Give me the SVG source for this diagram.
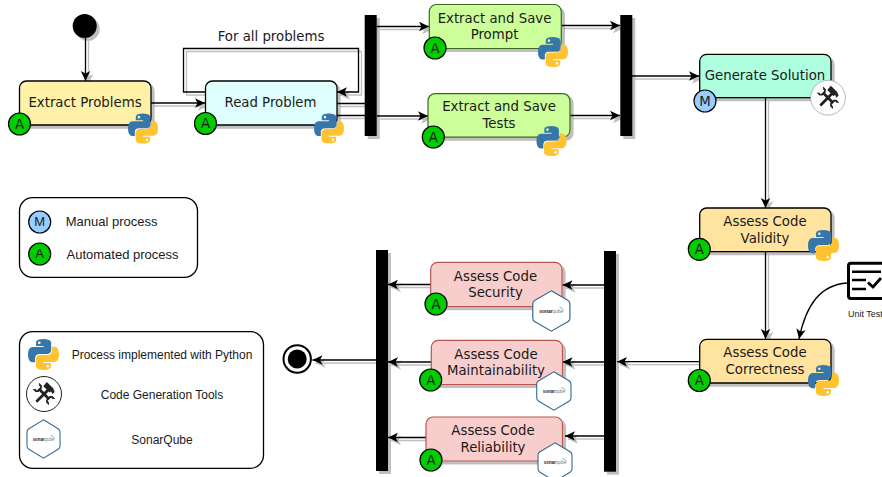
<svg xmlns="http://www.w3.org/2000/svg" xmlns:xlink="http://www.w3.org/1999/xlink" width="882" height="477" viewBox="0 0 882 477">
<style>
text{font-family:"DejaVu Sans",Verdana,sans-serif;font-size:13.300px;fill:#1a1a1a;text-anchor:middle;dominant-baseline:central}
.leg text,text.leg{font-family:"Liberation Sans",Arial,sans-serif;font-size:13px}
.n{stroke:#000;stroke-width:1.3}
.r{stroke:#b85450;stroke-width:1.2;fill:#f8cecc}
.g{stroke:#3a6b1a;stroke-width:1.2;fill:#ccff99}
.o{fill:#ffe39f}
.c{fill:none;stroke:#000;stroke-width:1.3}
.a{marker-end:url(#arrow)}
.badge{stroke:#000;stroke-width:1.2}
.A{fill:#00cc00}.M{fill:#99ccff}
.bar{fill:#000}
.box{fill:#fff;stroke:#000;stroke-width:1.3}
</style>
<defs>
<filter id="sh" filterUnits="userSpaceOnUse" x="0" y="0" width="882" height="477">
<feOffset in="SourceAlpha" dx="3" dy="3" result="o"/>
<feFlood flood-color="#000" flood-opacity=".25"/><feComposite in2="o" operator="in"/>
<feMerge><feMergeNode/><feMergeNode in="SourceGraphic"/></feMerge>
</filter>
<marker id="arrow" markerUnits="userSpaceOnUse" markerWidth="12" markerHeight="12" viewBox="-11 -6 12 12" refX="0" refY="0" orient="auto">
<path d="M0,0L-10,-4.7L-7.500,0L-10,4.700Z" fill="#000"/>
</marker>
<symbol id="py" viewBox="0 0 110 110">
<path fill="#3776ab" fill-rule="evenodd" d="M54.900 0C26.900 0 28.600 12.200 28.600 12.200v12.600h26.700v3.800H18S0 26.500 0 55s15.700 27.500 15.700 27.500h9.400V69.300s-.5-15.700 15.500-15.700h26.600s15 .2 15-14.500V14.700S84.500 0 54.900 0zM40.100 8.500a4.800 4.800 0 1 1 0 9.600 4.800 4.800 0 0 1 0-9.600z"/>
<path fill="#ffc331" fill-rule="evenodd" transform="rotate(180 55 55)" d="M54.900 0C26.900 0 28.600 12.200 28.600 12.200v12.600h26.700v3.800H18S0 26.500 0 55s15.700 27.500 15.700 27.500h9.400V69.300s-.5-15.700 15.500-15.700h26.600s15 .2 15-14.500V14.700S84.500 0 54.900 0zM40.100 8.500a4.800 4.800 0 1 1 0 9.600 4.800 4.800 0 0 1 0-9.600z"/>
</symbol>
<symbol id="tools-glyph" viewBox="0 0 36 36">
<g fill="#222">
<g transform="rotate(45 18 18)"><rect x="16.600" y="10" width="2.800" height="19" rx=".8"/><path d="M11.500 7.500h9l3.500 1.500v3l-3-1v2h-9z"/></g>
<g transform="rotate(-45 18 18)"><rect x="16.600" y="11" width="2.800" height="14"/><path d="M13.500 6.500v4l2 2h5l2-2v-4l-2 2v2h-5v-2zM13.500 29.500v-4l2-2h5l2 2v4l-2-2v-2h-5v2z"/></g>
</g>
</symbol>
<symbol id="sonar" viewBox="0 0 36 40" preserveAspectRatio="none">
<path d="M18 .8 33 9.700Q35 10.900 35 13V27Q35 29.100 33 30.300L18 39.200 3 30.300Q1 29.100 1 27V13Q1 10.900 3 9.700Z" fill="#fff" stroke="#336a94" stroke-width="1.100"/>
<text x="18" y="20" style="font-family:'Liberation Sans',Arial,sans-serif;font-size:4.500px;fill:#222"><tspan font-weight="bold">sonar</tspan><tspan fill="#777">qube</tspan></text>
<path d="M25.500 16.500Q28 17 29.500 19.500" fill="none" stroke="#4aa3df" stroke-width=".8"/>
</symbol>
</defs>
<rect width="882" height="477" fill="#fff"/>

<g id="connectors" filter="url(#sh)">
<path class="c a" d="M85.500 38V81"/>
<path class="c a" d="M151 103H205"/>
<path class="c a" d="M205.500 92H183.500V48.500H358.500V92H337"/>
<path class="c" d="M337 103.500H365M337 115.500H365"/>
<path class="c a" d="M377 26.500H429"/>
<path class="c a" d="M377 116H428"/>
<path class="c a" d="M561 25.500H620"/>
<path class="c a" d="M570 115.500H620"/>
<path class="c a" d="M632 76H699"/>
<path class="c a" d="M765.500 98V208"/>
<path class="c a" d="M765.500 252V339"/>
<path class="c a" d="M699.500 361.700H617"/>
<path class="c a" d="M604 285H562.500"/>
<path class="c a" d="M604 362H562.500"/>
<path class="c a" d="M604 436H565"/>
<path class="c a" d="M431 284.500H388"/>
<path class="c a" d="M431 362H388"/>
<path class="c a" d="M426 437.500H388"/>
<path class="c a" d="M376 360H312.500"/>
</g>
<path id="unit-test-link" class="c a" d="M847 283C820 285 806 305 799 339"/>

<g id="start"><circle cx="84.700" cy="26" r="12" fill="#000" filter="url(#sh)"/></g>
<text x="271" y="36">For all problems</text>

<g id="extract-problems">
<rect x="19.500" y="81" width="131.500" height="44" rx="7" class="n" fill="#fff2a8" filter="url(#sh)"/>
<text x="85" y="102.500">Extract Problems</text>
<circle cx="19.500" cy="124" r="11" class="badge A"/><text x="19.500" y="124">A</text>
<use href="#py" x="128" y="113" width="30" height="31"/>
</g>
<g id="read-problem">
<rect x="205.500" y="81" width="131.500" height="44" rx="7" class="n" fill="#dfffff" filter="url(#sh)"/>
<text x="270.500" y="102.500">Read Problem</text>
<circle cx="205.500" cy="123.500" r="11" class="badge A"/><text x="205.500" y="123.500">A</text>
<use href="#py" x="314" y="113" width="30" height="31"/>
</g>
<g id="fork-1"><rect x="364.700" y="15" width="12" height="121" class="bar" filter="url(#sh)"/></g>
<g id="extract-prompt">
<rect x="429.300" y="4.500" width="132" height="44" rx="7" class="g" filter="url(#sh)"/>
<text x="494.500" y="18">Extract and Save</text><text x="494.500" y="34.500">Prompt</text>
<circle cx="435" cy="48" r="11" class="badge A"/><text x="435" y="48">A</text>
<use href="#py" x="538" y="37" width="30" height="30"/>
</g>
<g id="extract-tests">
<rect x="428" y="93.700" width="142" height="43.500" rx="7" class="g" filter="url(#sh)"/>
<text x="499" y="106.500">Extract and Save</text><text x="499" y="123.500">Tests</text>
<circle cx="433.300" cy="137" r="11" class="badge A"/><text x="433.300" y="137">A</text>
<use href="#py" x="536" y="126" width="31" height="30"/>
</g>
<g id="join-1"><rect x="620.300" y="15" width="12" height="121" class="bar" filter="url(#sh)"/></g>
<g id="generate-solution">
<rect x="699.700" y="54.300" width="131.300" height="43.400" rx="7" class="n" fill="#aeffdf" filter="url(#sh)"/>
<text x="765" y="75.500">Generate Solution</text>
<circle cx="705" cy="101" r="11" class="badge M"/><text x="705" y="101">M</text>
<circle cx="828" cy="97.700" r="17.400" fill="#fff" stroke="#999" stroke-width=".7"/>
<use href="#tools-glyph" x="810" y="79.700" width="36" height="36"/>
</g>
<g id="assess-validity">
<rect x="699.700" y="208" width="131.300" height="43.700" rx="7" class="n o" filter="url(#sh)"/>
<text x="765" y="221.500">Assess Code</text><text x="765" y="238.500">Validity</text>
<circle cx="699.300" cy="249.300" r="11" class="badge A"/><text x="699.300" y="249.300">A</text>
<use href="#py" x="808" y="230" width="31" height="31"/>
</g>
<g id="assess-correctness">
<rect x="699.700" y="339.300" width="131.300" height="43.700" rx="7" class="n o" filter="url(#sh)"/>
<text x="765" y="352.500">Assess Code</text><text x="765" y="369.500">Correctness</text>
<circle cx="699.300" cy="380.500" r="11" class="badge A"/><text x="699.300" y="380.500">A</text>
<use href="#py" x="808" y="365" width="31" height="31"/>
</g>
<g id="unit-test">
<rect x="848.500" y="263.200" width="40" height="35.300" rx="2.500" fill="#fff" stroke="#000" stroke-width="3"/>
<path d="M852 271.700H881M852 280H866M852 289H866" stroke="#000" stroke-width="2.600" fill="none"/>
<path d="M868 282.500 873 287 881 278" stroke="#000" stroke-width="2.800" fill="none"/>
<text class="leg" x="848" y="314" style="font-size:9px;text-anchor:start">Unit Test</text>
</g>
<g id="fork-2"><rect x="604" y="251" width="12" height="220.700" class="bar" filter="url(#sh)"/></g>
<g id="join-2"><rect x="376" y="250" width="12" height="221" class="bar" filter="url(#sh)"/></g>
<g id="assess-security">
<rect x="430.700" y="262.300" width="131.300" height="44.400" rx="7" class="r" filter="url(#sh)"/>
<text x="495.500" y="276.500">Assess Code</text><text x="495.500" y="292.500">Security</text>
<circle cx="436" cy="304" r="11" class="badge A"/><text x="436" y="304">A</text>
<use href="#sonar" x="531.700" y="290" width="39.300" height="42"/>
</g>
<g id="assess-maintainability">
<rect x="431.300" y="340.300" width="131.200" height="44.200" rx="7" class="r" filter="url(#sh)"/>
<text x="496" y="354">Assess Code</text><text x="496" y="370.500">Maintainability</text>
<circle cx="430.700" cy="380" r="11" class="badge A"/><text x="430.700" y="380">A</text>
<use href="#sonar" x="535.700" y="371" width="36.300" height="40"/>
</g>
<g id="assess-reliability">
<rect x="426" y="417" width="136.500" height="44" rx="7" class="r" filter="url(#sh)"/>
<text x="493" y="430.500">Assess Code</text><text x="493" y="447.500">Reliability</text>
<circle cx="431" cy="460" r="11" class="badge A"/><text x="431" y="460">A</text>
<use href="#sonar" x="537" y="442" width="36" height="40"/>
</g>
<g id="end">
<circle cx="297.200" cy="359" r="13.700" fill="#fff" stroke="#000" stroke-width="2"/>
<circle cx="297.200" cy="359" r="9.500" fill="#000"/>
</g>
<g id="legend-process" class="leg">
<rect x="19.500" y="197.700" width="178" height="79.600" rx="13" class="box"/>
<circle cx="39.700" cy="222" r="11" class="badge M"/><text x="39.700" y="221.500">M</text>
<circle cx="39.700" cy="254" r="11" class="badge A"/><text x="39.700" y="253.500">A</text>
<text x="65.700" y="221.500" style="text-anchor:start">Manual process</text>
<text x="66.500" y="254" style="text-anchor:start">Automated process</text>
</g>
<g id="legend-tools" class="leg">
<rect x="19.500" y="331.700" width="244" height="136.600" rx="13" class="box"/>
<use href="#py" x="28" y="339" width="31" height="31"/>
<circle cx="44" cy="394" r="17.500" fill="#fff" stroke="#222" stroke-width="1"/>
<use href="#tools-glyph" x="26" y="376" width="36" height="36"/>
<use href="#sonar" x="26" y="419" width="35" height="40"/>
<text x="162" y="355" style="font-size:12px">Process implemented with Python</text>
<text x="162" y="394.500" style="font-size:12px">Code Generation Tools</text>
<text x="162" y="439.500" style="font-size:12px">SonarQube</text>
</g>
</svg>
